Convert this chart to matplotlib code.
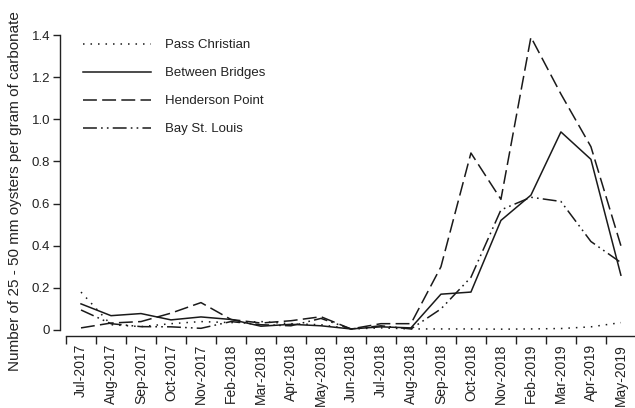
import matplotlib
matplotlib.use("Agg")
import matplotlib.pyplot as plt
import numpy as np
from matplotlib.ticker import FixedLocator, FixedFormatter, FuncFormatter

plt.rcParams['font.family'] = ['Liberation Sans', 'DejaVu Sans']
plt.rcParams['lines.scale_dashes'] = False

months = ["Jul-2017", "Aug-2017", "Sep-2017", "Oct-2017", "Nov-2017", "Feb-2018",
          "Mar-2018", "Apr-2018", "May-2018", "Jun-2018", "Jul-2018", "Aug-2018",
          "Sep-2018", "Oct-2018", "Nov-2018", "Feb-2019", "Mar-2019", "Apr-2019",
          "May-2019"]

pass_christian = [0.18, 0.025, 0.016, 0.03, 0.04, 0.035, 0.04, 0.03, 0.025, 0.005,
                  0.01, 0.005, 0.005, 0.005, 0.004, 0.005, 0.007, 0.015, 0.035]
between_bridges = [0.124, 0.068, 0.078, 0.048, 0.062, 0.05, 0.018, 0.027, 0.02, 0.005,
                   0.015, 0.01, 0.17, 0.18, 0.52, 0.64, 0.94, 0.81, 0.26]
henderson_point = [0.01, 0.033, 0.04, 0.08, 0.13, 0.05, 0.033, 0.044, 0.063, 0.005,
                   0.03, 0.03, 0.30, 0.84, 0.62, 1.39, 1.12, 0.87, 0.40]
bay_st_louis = [0.095, 0.03, 0.016, 0.015, 0.008, 0.04, 0.025, 0.02, 0.055, 0.005,
                0.02, 0.005, 0.10, 0.25, 0.57, 0.63, 0.61, 0.42, 0.32]

series = [
    ("Pass Christian", pass_christian, (0, (1.1, 4.3))),
    ("Between Bridges", between_bridges, "-"),
    ("Henderson Point", henderson_point, (0, (10, 3.8))),
    ("Bay St. Louis", bay_st_louis, (0, (10, 3, 1.2, 3, 1.2, 3))),
]

W, H = 635, 408
fig = plt.figure(figsize=(W / 100, H / 100), dpi=100)
ax = fig.add_axes([60 / W, (H - 330) / H, 1 - 60 / W, 295 / H])

x = np.arange(len(months))
line_color = "#1a1a1a"
for name, vals, ls in series:
    ax.plot(x, vals, color=line_color, lw=1.1, linestyle=ls, label=name)

ax.set_xlim(-0.7, 18.47)
ax.set_ylim(0, 1.4)

for s in ("top", "right"):
    ax.spines[s].set_visible(False)
ax.spines["left"].set_bounds(0, 1.4)
ax.spines["bottom"].set_position(("outward", 4))
ax.spines["bottom"].set_bounds(-0.5, 18.5)
for s in ("left", "bottom"):
    ax.spines[s].set_linewidth(1.0)
    ax.spines[s].set_color("#222222")

ax.set_yticks(np.arange(0, 1.41, 0.2))
ax.yaxis.set_major_formatter(FuncFormatter(lambda v, p: "0" if abs(v) < 1e-9 else f"{v:.1f}"))
ax.tick_params(axis="y", direction="out", length=5, width=1.0, labelsize=9.5,
               colors="#222222", pad=2)

ax.xaxis.set_major_locator(FixedLocator(np.arange(-0.5, 18.6, 1.0)))
ax.xaxis.set_major_formatter(FixedFormatter([""] * 20))
ax.xaxis.set_minor_locator(FixedLocator(x))
ax.xaxis.set_minor_formatter(FixedFormatter(months))
ax.tick_params(axis="x", which="major", direction="out", length=6, width=1.0,
               colors="#222222")
ax.tick_params(axis="x", which="minor", length=0, labelsize=10, labelrotation=90,
               pad=6, colors="#222222")

ax.set_ylabel("Number of 25 - 50 mm oysters per gram of carbonate", fontsize=11,
              color="#222222")
ax.yaxis.set_label_coords(-0.066, 0.471)

leg = ax.legend(loc="upper left", bbox_to_anchor=(0.02, 1.027), frameon=False,
                fontsize=9.5, handlelength=5.15, handletextpad=1.06, labelspacing=1.2)
for t in leg.get_texts():
    t.set_color("#222222")

fig.savefig("out.png", dpi=100)
